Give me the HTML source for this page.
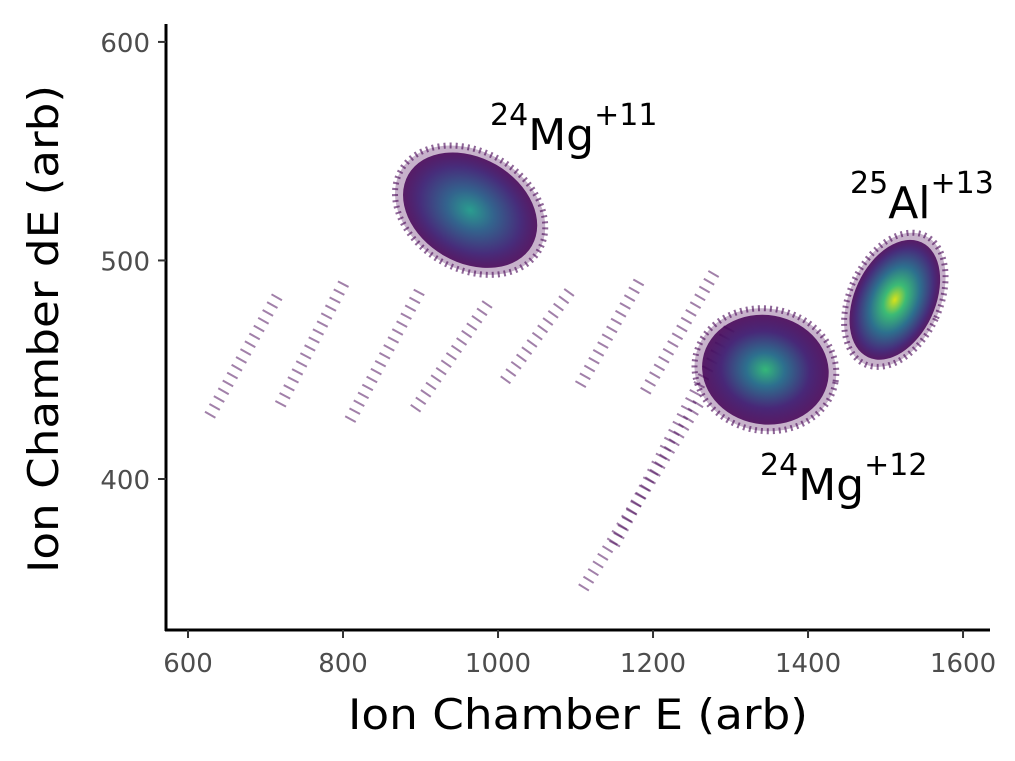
<!DOCTYPE html>
<html><head><meta charset="utf-8">
<style>
body{margin:0;background:#fff;}
svg{display:block;font-family:"DejaVu Sans","Liberation Sans",sans-serif;}
</style></head>
<body>
<svg id="chart" width="1015" height="761" viewBox="0 0 1015 761" style="position:absolute;left:0;top:0">
<defs>
<radialGradient id="gBlue"><stop offset="0" stop-color="#2a9d8f"/><stop offset="0.35" stop-color="#33638d"/><stop offset="0.75" stop-color="#472d7b"/><stop offset="1" stop-color="#440154" stop-opacity="0.85"/></radialGradient>
<radialGradient id="gGreen"><stop offset="0" stop-color="#d8e219"/><stop offset="0.25" stop-color="#3cbb75"/><stop offset="0.55" stop-color="#2d708e"/><stop offset="0.85" stop-color="#472d7b"/><stop offset="1" stop-color="#440154" stop-opacity="0.85"/></radialGradient>
<radialGradient id="gMid"><stop offset="0" stop-color="#35b779"/><stop offset="0.3" stop-color="#2d708e"/><stop offset="0.7" stop-color="#482878"/><stop offset="1" stop-color="#440154" stop-opacity="0.85"/></radialGradient>
</defs>
<g id="marks"></g>
<g id="axes"></g>
</svg>
<script>
// data
const xTicks=[600,800,1000,1200,1400,1600];
const yTicks=[400,500,600];
const clusterNames=["mg24-11","mg24-12","al25-13"];
const clusterX=[964,1345,1512];
const clusterY=[523,450,482];
const clusterRx=[92,82,52];
const clusterRy=[24,25,29];
const clusterRot=[30,10,25];
const clusterFill=["gBlue","gMid","gGreen"];
const streakX0=[628,719,809,893,1009,1106,1110,1190,1150];
const streakY0=[429,434,427,432,445,443,350,440,370];
const streakX1=[719,803,899,990,1093,1183,1261,1280,1300];
const streakY1=[486,491,486,482,486,491,436,495,470];

const X0=571.6,X1=1634.8,PX0=166,PX1=990;
const Y0=330.9,Y1=608.2,PY0=630,PY1=24;
const xs=v=>PX0+(v-X0)/(X1-X0)*(PX1-PX0);
const ys=v=>PY0+(v-Y0)/(Y1-Y0)*(PY1-PY0);
const NS="http://www.w3.org/2000/svg";
const marks=document.getElementById('marks');
const axes=document.getElementById('axes');
function mk(tag,attrs,parent){const e=document.createElementNS(NS,tag);for(const k in attrs)e.setAttribute(k,attrs[k]);parent.appendChild(e);return e;}

for(let i=0;i<streakX0.length;i++){
  const l=mk('line',{x1:xs(streakX0[i]),y1:ys(streakY0[i]),x2:xs(streakX1[i]),y2:ys(streakY1[i]),stroke:'#440154','stroke-width':12,'stroke-dasharray':'2 7','stroke-opacity':0.5},marks);
  
  
}
for(let i=0;i<clusterX.length;i++){
  const cx=xs(clusterX[i]),cy=ys(clusterY[i]);
  const rx=clusterRx[i]*(PX1-PX0)/(X1-X0), ry=clusterRy[i]*(PY0-PY1)/(Y1-Y0);
  const halo=mk('ellipse',{cx:cx,cy:cy,rx:rx*1.12,ry:ry*1.12,fill:'#440154','fill-opacity':0.3,stroke:'#440154','stroke-width':6,'stroke-dasharray':'2 4','stroke-opacity':0.6,transform:`rotate(${clusterRot[i]} ${cx} ${cy})`},marks);
  
  
  const e=mk('ellipse',{cx:cx,cy:cy,rx:rx,ry:ry,fill:`url(#${clusterFill[i]})`,transform:`rotate(${clusterRot[i]} ${cx} ${cy})`},marks);
  
  
}
const ax=mk('line',{x1:166,y1:24,x2:166,y2:631,stroke:'#000','stroke-width':3},axes);


const bx=mk('line',{x1:165,y1:630,x2:990,y2:630,stroke:'#000','stroke-width':3},axes);


xTicks.forEach(v=>{
  const x=xs(v);
  mk('line',{x1:x,y1:630,x2:x,y2:638,stroke:'#333','stroke-width':2},axes);
  const t=mk('text',{x:x,y:672,'text-anchor':'middle','font-size':26,fill:'#4d4d4d'},axes);
  t.textContent=v;
  
  
});
yTicks.forEach(v=>{
  const y=ys(v);
  mk('line',{x1:158,y1:y,x2:166,y2:y,stroke:'#333','stroke-width':2},axes);
  const t=mk('text',{x:150,y:y+10,'text-anchor':'end','font-size':26,fill:'#4d4d4d'},axes);
  t.textContent=v;
  
  
});
</script>
<svg style="position:absolute;left:0;top:0;font-family:'DejaVu Sans','Liberation Sans',sans-serif" width="1015" height="761">
<text x="348" y="729" textLength="460" lengthAdjust="spacingAndGlyphs" font-size="42">Ion Chamber E (arb)</text>
<text transform="translate(58 573) rotate(-90)" textLength="488" lengthAdjust="spacingAndGlyphs" font-size="42">Ion Chamber dE (arb)</text>
<text x="490" y="150" font-size="44"><tspan font-size="30" dy="-25">24</tspan><tspan dy="25">Mg</tspan><tspan font-size="30" dy="-25">+11</tspan></text>
<text x="850" y="218" font-size="44"><tspan font-size="30" dy="-25">25</tspan><tspan dy="25">Al</tspan><tspan font-size="30" dy="-25">+13</tspan></text>
<text x="760" y="500" font-size="44"><tspan font-size="30" dy="-25">24</tspan><tspan dy="25">Mg</tspan><tspan font-size="30" dy="-25">+12</tspan></text>
</svg>
</body></html>
